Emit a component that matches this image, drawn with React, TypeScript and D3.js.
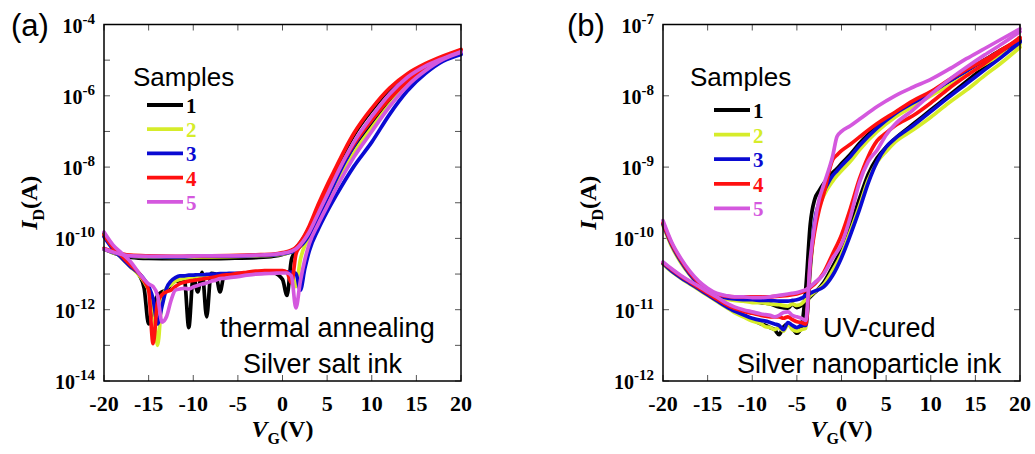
import React from 'react';
import * as d3 from 'd3';

// ---------- shared ----------
const SAMPLE_LABELS = ['1', '2', '3', '4', '5'];
const SAMPLE_COLORS = ['#000000', '#d6ec2a', '#0a0ad2', '#ff1010', '#d458de'];
const X_TICKS = [-20, -15, -10, -5, 0, 5, 10, 15, 20];

// ---------- panel (a): thermal annealing, silver salt ink ----------
// values are log10(I_D / A)
const A_VG_FLAT = [-20, -19, -18, -17, -15, -12, -9, -6, -3, -1, 0, 1, 1.5, 2, 2.5, 3, 4, 5, 6, 7, 8, 10, 12, 14, 16, 18, 20];
const A_FLAT_1 = [-10.3, -10.4, -10.48, -10.53, -10.56, -10.57, -10.57, -10.56, -10.54, -10.5, -10.45, -10.36, -10.27, -10.12, -9.93, -9.7, -9.15, -8.6, -8.05, -7.55, -7.1, -6.4, -5.82, -5.42, -5.13, -4.92, -4.74];
const A_FLAT_2 = [-10.3, -10.4, -10.46, -10.5, -10.52, -10.53, -10.52, -10.51, -10.49, -10.47, -10.44, -10.38, -10.32, -10.2, -10.05, -9.87, -9.35, -8.83, -8.3, -7.8, -7.35, -6.62, -6.0, -5.52, -5.2, -4.97, -4.78];
const A_FLAT_3 = [-10.3, -10.39, -10.46, -10.5, -10.51, -10.52, -10.5, -10.5, -10.48, -10.46, -10.43, -10.38, -10.33, -10.22, -10.08, -9.9, -9.4, -8.88, -8.35, -7.85, -7.4, -6.68, -6.05, -5.56, -5.23, -5.0, -4.8];
const A_FLAT_4 = [-10.28, -10.36, -10.43, -10.47, -10.49, -10.5, -10.49, -10.48, -10.46, -10.44, -10.4, -10.33, -10.25, -10.1, -9.9, -9.65, -9.05, -8.5, -8.0, -7.5, -7.05, -6.35, -5.78, -5.38, -5.1, -4.88, -4.7];
const A_FLAT_5 = [-10.3, -10.38, -10.45, -10.49, -10.5, -10.5, -10.49, -10.49, -10.47, -10.45, -10.42, -10.36, -10.3, -10.18, -10.02, -9.82, -9.3, -8.78, -8.25, -7.75, -7.3, -6.58, -5.95, -5.48, -5.17, -4.95, -4.76];

const A_VG_DIP = [-20, -19, -18, -17, -16, -15.5, -15, -14.5, -14, -13.5, -13, -12.5, -12, -11.5, -11, -10.5, -10, -9.5, -9, -8.5, -8, -7.5, -7, -6.5, -6, -5, -4, -3, -2, -1, 0, 0.5, 1, 1.5, 2, 2.5, 3, 4, 5, 6, 8, 10, 12, 14, 16, 18, 20];
const A_DIP_1 = [-9.86, -10.25, -10.55, -10.8, -11.05, -11.4, -12.4, -11.9, -11.6, -11.5, -11.45, -11.3, -11.2, -11.2, -11.15, -12.5, -11.05, -11.5, -10.95, -12.2, -10.98, -11.0, -11.5, -11.0, -11.08, -11.0, -10.98, -10.95, -10.95, -10.97, -11.15, -11.6, -10.6, -10.35, -10.15, -9.97, -9.8, -9.3, -8.8, -8.3, -7.45, -6.78, -6.18, -5.66, -5.26, -4.97, -4.78];
const A_DIP_2 = [-9.9, -10.28, -10.55, -10.8, -11.05, -11.22, -11.45, -11.85, -13.0, -11.7, -11.4, -11.3, -11.2, -11.15, -11.12, -11.1, -11.08, -11.07, -11.06, -11.05, -11.04, -11.03, -11.03, -11.02, -11.02, -11.0, -10.99, -10.98, -10.97, -10.96, -10.95, -10.95, -11.0, -11.35, -10.6, -10.2, -10.0, -9.48, -8.98, -8.5, -7.6, -6.9, -6.25, -5.7, -5.28, -4.98, -4.8];
const A_DIP_3 = [-9.95, -10.3, -10.55, -10.8, -11.0, -11.15, -11.35, -11.7, -12.4, -11.9, -11.4, -11.2, -11.1, -11.05, -11.05, -11.03, -11.03, -11.02, -11.02, -11.01, -11.0, -11.0, -10.99, -10.99, -10.98, -10.98, -10.97, -10.96, -10.95, -10.95, -10.94, -10.94, -10.95, -10.98, -11.45, -10.85, -10.35, -9.75, -9.25, -8.8, -7.98, -7.3, -6.52, -5.86, -5.38, -5.03, -4.84];
const A_DIP_4 = [-9.9, -10.25, -10.5, -10.75, -11.0, -11.2, -11.45, -12.95, -11.8, -11.58, -11.5, -11.45, -11.35, -11.27, -11.23, -11.2, -11.18, -11.16, -11.14, -11.12, -11.1, -11.08, -11.05, -11.03, -11.02, -10.98, -10.95, -10.92, -10.9, -10.9, -10.9, -10.95, -11.25, -10.45, -10.2, -9.95, -9.72, -9.2, -8.7, -8.2, -7.35, -6.68, -6.08, -5.6, -5.2, -4.92, -4.72];
const A_DIP_5 = [-9.82, -10.18, -10.42, -10.66, -11.0, -11.15, -11.28, -11.35, -11.6, -12.35, -12.2, -11.75, -11.45, -11.42, -11.4, -11.42, -11.36, -11.32, -11.28, -11.25, -11.2, -11.17, -11.13, -11.12, -11.1, -11.07, -11.03, -11.0, -10.99, -10.98, -10.97, -10.97, -11.05, -11.95, -11.2, -10.6, -10.15, -9.6, -9.1, -8.6, -7.72, -7.0, -6.3, -5.72, -5.3, -4.98, -4.78];

// ---------- panel (b): UV-cured, silver nanoparticle ink ----------
const B_VG_UP = [-20, -19, -18, -17, -16, -15, -14, -13, -12, -11, -10, -9, -8, -7, -6, -5.5, -5, -4.5, -4, -3, -2, -1, 0, 1, 2, 3, 4, 5, 6, 8, 10, 12, 14, 16, 18, 20];
const B_UP_1 = [-9.8, -10.1, -10.32, -10.5, -10.64, -10.74, -10.8, -10.84, -10.86, -10.87, -10.88, -10.9, -10.92, -10.96, -10.98, -10.92, -10.97, -10.94, -10.88, -10.76, -10.62, -10.4, -10.15, -9.82, -9.45, -9.1, -8.87, -8.72, -8.6, -8.4, -8.2, -8.0, -7.8, -7.6, -7.42, -7.24];
const B_UP_2 = [-9.82, -10.12, -10.34, -10.51, -10.65, -10.75, -10.81, -10.85, -10.87, -10.88, -10.9, -10.9, -10.92, -10.93, -10.95, -10.92, -10.94, -10.92, -10.86, -10.75, -10.65, -10.45, -10.22, -9.9, -9.55, -9.18, -8.93, -8.78, -8.65, -8.48, -8.3, -8.1, -7.92, -7.72, -7.53, -7.32];
const B_UP_3 = [-9.8, -10.1, -10.32, -10.5, -10.64, -10.73, -10.79, -10.83, -10.85, -10.86, -10.86, -10.87, -10.87, -10.88, -10.88, -10.87, -10.86, -10.84, -10.8, -10.74, -10.68, -10.52, -10.27, -9.95, -9.6, -9.22, -8.92, -8.72, -8.6, -8.42, -8.22, -8.02, -7.83, -7.64, -7.45, -7.25];
const B_UP_4 = [-9.78, -10.08, -10.3, -10.48, -10.62, -10.72, -10.78, -10.81, -10.82, -10.82, -10.82, -10.82, -10.82, -10.81, -10.8, -10.79, -10.78, -10.76, -10.73, -10.64, -10.48, -10.22, -9.95, -9.58, -9.17, -8.85, -8.63, -8.52, -8.42, -8.28, -8.1, -7.9, -7.72, -7.55, -7.37, -7.18];
const B_UP_5 = [-9.75, -10.06, -10.28, -10.46, -10.6, -10.7, -10.77, -10.8, -10.82, -10.82, -10.83, -10.83, -10.82, -10.8, -10.78, -10.77, -10.76, -10.74, -10.72, -10.62, -10.5, -10.28, -10.08, -9.7, -9.22, -8.92, -8.76, -8.55, -8.4, -8.2, -7.98, -7.78, -7.6, -7.43, -7.27, -7.1];

const B_VG_LO = [-20, -19, -18, -17, -16, -15, -14, -13, -12, -11, -10, -9, -8.5, -8, -7.5, -7, -6.5, -6, -5.5, -5, -4.5, -4, -3.5, -3, -2.5, -2, -1, -0.5, 0, 1, 2, 4, 6, 8, 10, 12, 14, 16, 18, 20];
const B_LO_1 = [-10.35, -10.45, -10.54, -10.62, -10.7, -10.78, -10.86, -10.94, -11.02, -11.08, -11.14, -11.2, -11.22, -11.25, -11.28, -11.35, -11.24, -11.2, -11.26, -11.33, -11.25, -10.7, -9.8, -9.45, -9.33, -9.23, -9.08, -9.02, -8.95, -8.82, -8.67, -8.43, -8.24, -8.09, -7.95, -7.8, -7.65, -7.5, -7.35, -7.22];
const B_LO_2 = [-10.36, -10.47, -10.56, -10.64, -10.72, -10.8, -10.88, -10.96, -11.04, -11.1, -11.16, -11.2, -11.24, -11.25, -11.28, -11.25, -11.3, -11.2, -11.28, -11.3, -11.28, -11.26, -10.45, -9.8, -9.55, -9.4, -9.2, -9.12, -9.05, -8.92, -8.76, -8.5, -8.3, -8.15, -8.0, -7.86, -7.71, -7.56, -7.42, -7.28];
const B_LO_3 = [-10.35, -10.46, -10.55, -10.63, -10.71, -10.79, -10.87, -10.95, -11.02, -11.07, -11.12, -11.15, -11.16, -11.18, -11.2, -11.22, -11.28, -11.18, -11.22, -11.25, -11.22, -11.22, -10.4, -9.75, -9.5, -9.35, -9.12, -9.05, -8.98, -8.85, -8.7, -8.45, -8.25, -8.1, -7.96, -7.8, -7.65, -7.5, -7.36, -7.22];
const B_LO_4 = [-10.34, -10.44, -10.53, -10.61, -10.69, -10.77, -10.85, -10.92, -10.98, -11.02, -11.05, -11.08, -11.09, -11.1, -11.1, -11.1, -11.12, -11.1, -11.14, -11.17, -11.18, -11.2, -10.35, -9.9, -9.6, -9.38, -8.9, -8.83, -8.77, -8.68, -8.58, -8.39, -8.23, -8.07, -7.94, -7.78, -7.63, -7.5, -7.35, -7.2];
const B_LO_5 = [-10.33, -10.43, -10.52, -10.6, -10.67, -10.75, -10.82, -10.9, -10.96, -11.0, -11.03, -11.06, -11.07, -11.08, -11.1, -11.08, -11.04, -11.03, -11.08, -11.1, -11.12, -11.15, -10.3, -9.8, -9.45, -9.25, -8.85, -8.57, -8.5, -8.42, -8.33, -8.15, -8.0, -7.88, -7.77, -7.63, -7.48, -7.34, -7.2, -7.06];

const A_Y_TICKS = [-14, -13, -12, -11, -10, -9, -8, -7, -6, -5, -4];
const A_Y_LABELS = [-14, -12, -10, -8, -6, -4];
const B_Y_TICKS = [-12, -11, -10, -9, -8, -7];
const B_Y_LABELS = [-12, -11, -10, -9, -8, -7];

type Branch = { vg: number[]; vals: number[] };

const PANELS = [
  {
    letter: '(a)', letterX: 11,
    left: 104, right: 461, top: 24.5, bottom: 381,
    yMin: -14, yMax: -4, yTicks: A_Y_TICKS, yLabels: A_Y_LABELS,
    samples: [
      [{ vg: A_VG_FLAT, vals: A_FLAT_1 }, { vg: A_VG_DIP, vals: A_DIP_1 }],
      [{ vg: A_VG_FLAT, vals: A_FLAT_2 }, { vg: A_VG_DIP, vals: A_DIP_2 }],
      [{ vg: A_VG_FLAT, vals: A_FLAT_3 }, { vg: A_VG_DIP, vals: A_DIP_3 }],
      [{ vg: A_VG_FLAT, vals: A_FLAT_4 }, { vg: A_VG_DIP, vals: A_DIP_4 }],
      [{ vg: A_VG_FLAT, vals: A_FLAT_5 }, { vg: A_VG_DIP, vals: A_DIP_5 }],
    ] as Branch[][],
    samplesTitle: { x: 133, y: 86 },
    legend: { x0: 147, x1: 183, y0: 105, dy: 24.2 },
    notes: [
      { text: 'thermal annealing', x: 220, y: 337 },
      { text: 'Silver salt ink', x: 243, y: 373 },
    ],
  },
  {
    letter: '(b)', letterX: 567,
    left: 663, right: 1020, top: 24.5, bottom: 381,
    yMin: -12, yMax: -7, yTicks: B_Y_TICKS, yLabels: B_Y_LABELS,
    samples: [
      [{ vg: B_VG_UP, vals: B_UP_1 }, { vg: B_VG_LO, vals: B_LO_1 }],
      [{ vg: B_VG_UP, vals: B_UP_2 }, { vg: B_VG_LO, vals: B_LO_2 }],
      [{ vg: B_VG_UP, vals: B_UP_3 }, { vg: B_VG_LO, vals: B_LO_3 }],
      [{ vg: B_VG_UP, vals: B_UP_4 }, { vg: B_VG_LO, vals: B_LO_4 }],
      [{ vg: B_VG_UP, vals: B_UP_5 }, { vg: B_VG_LO, vals: B_LO_5 }],
    ] as Branch[][],
    samplesTitle: { x: 690, y: 86 },
    legend: { x0: 714, x1: 750, y0: 110, dy: 24.6 },
    notes: [
      { text: 'UV-cured', x: 823, y: 337 },
      { text: 'Silver nanoparticle ink', x: 737, y: 373 },
    ],
  },
];

const SERIF = '"Liberation Serif", "Times New Roman", serif';
const SANS = '"Liberation Sans", Arial, sans-serif';

function Panel({ p }: { p: (typeof PANELS)[number] }) {
  const x = d3.scaleLinear().domain([-20, 20]).range([p.left, p.right]);
  const y = d3.scaleLog().domain([10 ** p.yMin, 10 ** p.yMax]).range([p.bottom, p.top]);
  const line = d3
    .line<[number, number]>()
    .x((d) => x(d[0]))
    .y((d) => y(10 ** d[1]))
    .curve(d3.curveMonotoneX);
  const T = 6;
  return (
    <g>
      {/* ticks */}
      {X_TICKS.map((t) => (
        <g key={'xt' + t} stroke="#555" strokeWidth={1}>
          <line x1={x(t)} x2={x(t)} y1={p.bottom} y2={p.bottom - T} />
          <line x1={x(t)} x2={x(t)} y1={p.top} y2={p.top + T} />
        </g>
      ))}
      {p.yTicks.map((e) => (
        <g key={'yt' + e} stroke="#555" strokeWidth={1}>
          <line x1={p.left} x2={p.left + T} y1={y(10 ** e)} y2={y(10 ** e)} />
          <line x1={p.right} x2={p.right - T} y1={y(10 ** e)} y2={y(10 ** e)} />
        </g>
      ))}
      {/* data */}
      {p.samples.map((branches, si) => (
        <g key={'s' + si} stroke={SAMPLE_COLORS[si]} fill="none" strokeWidth={3.7} strokeLinejoin="round" strokeLinecap="round">
          {branches.map((b, bi) => (
            <path key={bi} d={line(b.vg.map((v, i) => [v, b.vals[i]] as [number, number])) || ''} />
          ))}
        </g>
      ))}
      {/* frame */}
      <rect x={p.left} y={p.top} width={p.right - p.left} height={p.bottom - p.top} fill="none" stroke="#000" strokeWidth={1.5} />
      {/* x tick labels */}
      {X_TICKS.map((t) => (
        <text key={'xl' + t} x={x(t)} y={411} textAnchor="middle" fontFamily={SERIF} fontWeight="bold" fontSize={22} fill="#000">
          {t}
        </text>
      ))}
      {/* y tick labels */}
      {p.yLabels.map((e) => (
        <text key={'yl' + e} x={p.left - 9} y={y(10 ** e) + 8} textAnchor="end" fontFamily={SERIF} fontWeight="bold" fontSize={20} fill="#000">
          10
          <tspan dy={-9} fontSize={15}>{String(e)}</tspan>
        </text>
      ))}
      {/* x title */}
      <text x={(p.left + p.right) / 2} y={437} textAnchor="middle" fontFamily={SERIF} fontWeight="bold" fontSize={24} fill="#000">
        <tspan fontStyle="italic">V</tspan>
        <tspan dy={7} fontSize={16}>G</tspan>
        <tspan dy={-7}>(V)</tspan>
      </text>
      {/* y title */}
      <text
        transform={`translate(${p.left - 67},${(p.top + p.bottom) / 2}) rotate(-90)`}
        textAnchor="middle"
        fontFamily={SERIF}
        fontWeight="bold"
        fontSize={24}
        fill="#000"
      >
        <tspan fontStyle="italic">I</tspan>
        <tspan dy={7} fontSize={16}>D</tspan>
        <tspan dy={-7}>(A)</tspan>
      </text>
      {/* panel letter */}
      <text x={p.letterX} y={35.5} fontFamily={SANS} fontSize={31} fill="#000">
        {p.letter}
      </text>
      {/* legend */}
      <text x={p.samplesTitle.x} y={p.samplesTitle.y} fontFamily={SANS} fontSize={26} fill="#000">
        Samples
      </text>
      {SAMPLE_LABELS.map((s, i) => {
        const ly = p.legend.y0 + i * p.legend.dy;
        return (
          <g key={'lg' + s}>
            <line x1={p.legend.x0} x2={p.legend.x1} y1={ly} y2={ly} stroke={SAMPLE_COLORS[i]} strokeWidth={3.8} />
            <text x={p.legend.x1 + 3} y={ly + 8} fontFamily={SERIF} fontWeight="bold" fontSize={21} fill={SAMPLE_COLORS[i]}>
              {s}
            </text>
          </g>
        );
      })}
      {/* annotations */}
      {p.notes.map((n) => (
        <text key={n.text} x={n.x} y={n.y} fontFamily={SANS} fontSize={27} fill="#000">
          {n.text}
        </text>
      ))}
    </g>
  );
}

export default function App() {
  return (
    <svg
      width={1035}
      height={454}
      viewBox="0 0 1035 454"
      style={{ position: 'absolute', left: 0, top: 0, background: '#fff' }}
    >
      <rect x={0} y={0} width={1035} height={454} fill="#fff" />
      {PANELS.map((p) => (
        <Panel key={p.letter} p={p} />
      ))}
    </svg>
  );
}
